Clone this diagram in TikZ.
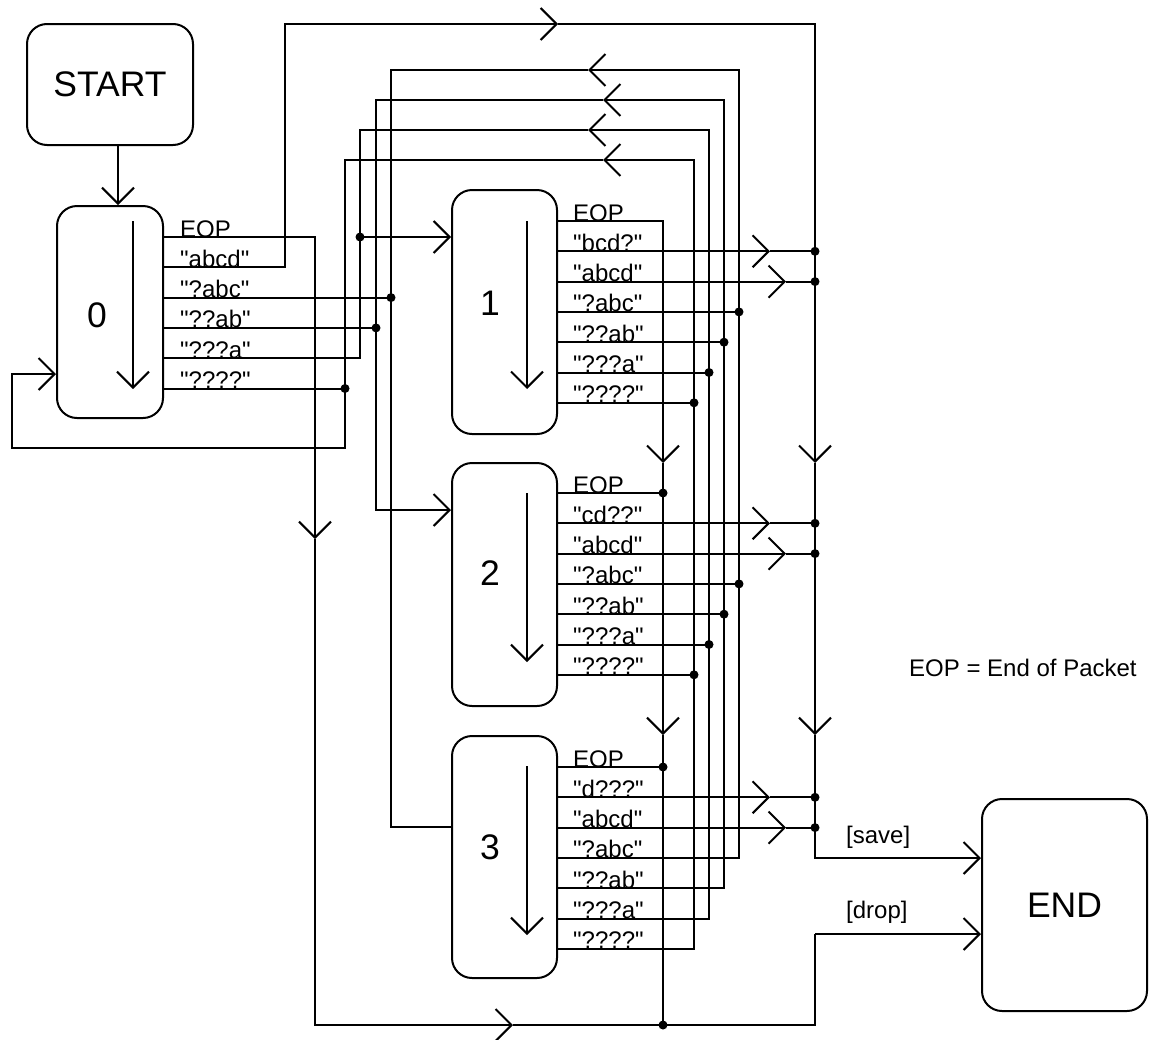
\documentclass[tikz,border=0pt]{standalone}
\usepackage{fontspec}
\setmainfont{Liberation Sans}[Ligatures=TeXOff]
\usetikzlibrary{arrows.meta}
\tikzset{
  wire/.style={draw=black,line width=2pt},
  barb/.style={-{Straight Barb[length=16pt,width=32pt]}},
  state/.style={draw=black,line width=2pt,rounded corners=20pt,inner sep=0pt},
  big/.style={font=\fontsize{35.5}{42}\selectfont,inner sep=0pt},
  lbl/.style={font=\fontsize{24}{28}\selectfont,anchor=base west,inner sep=0pt},
}

\begin{document}
\begin{tikzpicture}[x=1pt,y=-1pt]
\useasboundingbox (0,0) rectangle (1150,1039);
% states
\node[state,big,minimum width=166pt,minimum height=121pt] (start) at (110,84.5) {START};
\node[state,minimum width=106pt,minimum height=212pt] (s0) at (110,312) {};
\node[state,minimum width=105pt,minimum height=244pt] (s1) at (504.5,312) {};
\node[state,minimum width=105pt,minimum height=243pt] (s2) at (504.5,584.5) {};
\node[state,minimum width=105pt,minimum height=242pt] (s3) at (504.5,857) {};
\node[state,big,minimum width=165pt,minimum height=212pt] (end) at (1064.5,905) {END};
\node[big] (n0) at (97,315) {0};
\foreach \k/\yy in {1/303,2/573,3/847} \node[big] (n\k) at (490,\yy) {\k};
% shift arrows inside the states
\draw[wire,barb] (133,221) -- (133,389);
\foreach \k/\ya/\yb in {1/221/389,2/493/662,3/766/935} \draw[wire,barb] (527,\ya) -- (527,\yb);

% ports and their labels
\foreach \i in {0,...,5} \coordinate (p0-\i) at (163,237+30.3*\i);
\foreach \k/\yy in {1/221,2/493,3/767}
  \foreach \i in {0,...,6} \coordinate (p\k-\i) at (557,\yy+30.3*\i);
\foreach \t [count=\i from 0] in {EOP,"abcd","?abc","??ab","???a","????"}
  \node[lbl] (t0-\i) at ([xshift=17pt]p0-\i) {\t};
\foreach \k/\w in {1/bcd?,2/cd??,3/d???}
  \foreach \t [count=\i from 0] in {EOP,"\w","abcd","?abc","??ab","???a","????"}
    \node[lbl] (t\k-\i) at ([xshift=16pt]p\k-\i) {\t};

% wire columns and rows
\foreach \n/\xx in {ue/315,ua/285,u0/345,u1/360,u2/376,u3/391,ve/663,v0/694,v1/709,v2/724,v3/739,vb/815,h1/770,h2/786,lx/12,mt/558,mb/513,m3/588,m2/603,m1/588,m0/603}
  \coordinate (\n) at (\xx,0);
\foreach \n/\yy in {ytop/24,y3/70,y2/100,y1/130,y0/160,yin0/374,yin2/510,yin3/827,yl/448,ysave/858,ydrop/934,ybot/1025,ya1/463,ya2/735,yae/539}
  \coordinate (\n) at (0,\yy);

\draw[wire,barb] ([xshift=8pt]start.south) -- ([xshift=8pt]s0.north);

% EOP of state 0 -> [drop]
\draw[wire,barb] (p0-0) -| (ue |- yae);
\draw[wire,barb] (ue |- yae) |- (mb |- ybot);
\draw[wire] (mb |- ybot) -| (vb |- ydrop);
\draw[wire,barb] (vb |- ydrop) -- (end.west |- ydrop);
% "abcd" of state 0 -> [save]
\draw[wire,barb] (p0-1) -| (ua |- ytop) -- (mt |- ytop);
\draw[wire,barb] (mt |- ytop) -| (vb |- ya1);
\draw[wire,barb] (vb |- ya1) -- (vb |- ya2);
\draw[wire,barb] (vb |- ya2) |- (end.west |- ysave);
\node[lbl] (savelbl) at (846,843) {[save]};
\node[lbl] (droplbl) at (846,918) {[drop]};

% state 0 into the back wires
\draw[wire] (p0-2) -- (p0-2 -| u3);
\draw[wire] (p0-3) -- (p0-3 -| u2);
\draw[wire] (p0-5) -- (p0-5 -| u0);

% back wires from state 3 to states 0..3
\foreach \p/\v/\yy/\m in {3/v3/y3/m3,4/v2/y2/m2,5/v1/y1/m1,6/v0/y0/m0}
  \draw[wire,barb] (p3-\p) -| (\v |- \yy) -- (\m |- \yy);
\draw[wire] (m3 |- y3) -| (u3 |- yin3) -- (s3.west |- yin3);
\draw[wire,barb] (m2 |- y2) -| (u2 |- yin2) -- (s2.west |- yin2);
\draw[wire] (m1 |- y1) -| (u1 |- p0-4) -- (p0-4);
\draw[wire,barb] (p0-0 -| u1) -- (p0-0 -| s1.west);
\draw[wire,barb] (m0 |- y0) -| (u0 |- yl) -| (lx |- yin0) -- (s0.west |- yin0);

% EOP of states 1..3
\draw[wire,barb] (p1-0) -| (ve |- ya1);
\draw[wire,barb] (ve |- ya1) -- (ve |- ya2);
\draw[wire] (ve |- ya2) -- (ve |- ybot);
\foreach \k in {2,3} {
  \draw[wire] (p\k-0) -- (p\k-0 -| ve);
  \fill (p\k-0 -| ve) circle[radius=4.5pt];
}
\fill (ve |- ybot) circle[radius=4.5pt];
% matches -> right bus
\foreach \k in {1,2,3} {
  \draw[wire,barb] (p\k-1) -- (p\k-1 -| h1);
  \draw[wire] (p\k-1 -| h1) -- (p\k-1 -| vb);
  \draw[wire,barb] (p\k-2) -- (p\k-2 -| h2);
  \draw[wire] (p\k-2 -| h2) -- (p\k-2 -| vb);
  \fill (p\k-1 -| vb) circle[radius=4.5pt];
  \fill (p\k-2 -| vb) circle[radius=4.5pt];
}
% states 1,2 into the back wires
\foreach \k in {1,2}
  \foreach \p/\v in {3/v3,4/v2,5/v1,6/v0} {
    \draw[wire] (p\k-\p) -- (p\k-\p -| \v);
    \fill (p\k-\p -| \v) circle[radius=4.5pt];
  }
\foreach \q in {p0-2 -| u3,p0-3 -| u2,p0-5 -| u0,p0-0 -| u1}
  \fill (\q) circle[radius=4.5pt];

\node[lbl] (eopnote) at (909,676) {EOP = End of Packet};
\end{tikzpicture}
\end{document}
